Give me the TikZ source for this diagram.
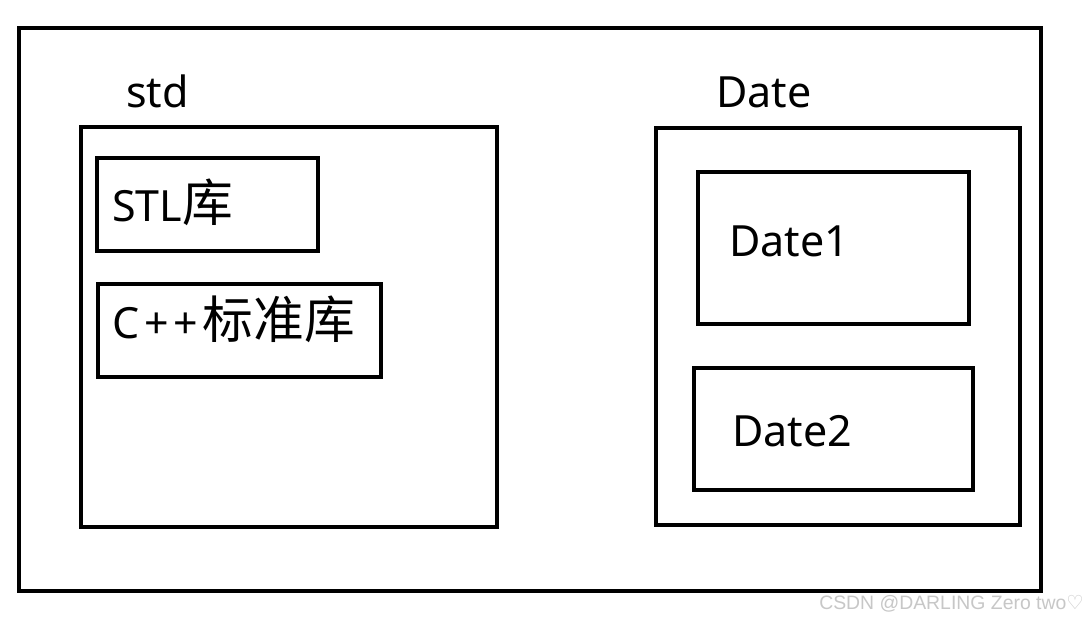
\documentclass[tikz,border=0pt]{standalone}
\usepackage{fontspec}
\setmainfont{Noto Sans}
\newfontfamily\cjkf[Scale=1.18]{Noto Sans CJK SC}
\newfontfamily\markf{Liberation Sans}
\newfontfamily\symf{DejaVu Sans}
\usepackage{tikz}
\usetikzlibrary{positioning}
\tikzset{
  frame/.style={draw=black,line width=4pt,rectangle,anchor=north west,inner sep=0pt,outer sep=0pt},
  lbl/.style={anchor=base west,inner sep=0pt,font=\fontsize{43}{50}\selectfont}
}
\begin{document}
\begin{tikzpicture}[x=1pt,y=-1pt]
\useasboundingbox[fill=white] (0,0) rectangle (1087,619);
% outer frame
\node[frame,minimum width=1022pt,minimum height=563pt] (outer) at (19,27.5) {};
% std namespace
\node[frame,minimum width=416pt,minimum height=400pt] (std) at (81,126.5) {};
\node[frame,minimum width=221pt,minimum height=93pt] (stl) at (97,158) {};
\node[frame,minimum width=283pt,minimum height=93pt] (cpp) at (98,284) {};
\node[lbl] (stdname) at (126,107) {std};
\node[lbl] (stltext) at (112,221) {STL{\cjkf 库}};
\node[lbl] (cpptext) at (112,338) {C\kern5pt+\kern5pt+\kern4pt{\cjkf 标准库}};
% Date namespace
\node[frame,minimum width=364pt,minimum height=397pt] (date) at (656,128) {};
\node[frame,minimum width=271pt,minimum height=152pt] (date1) at (698,172) {};
\node[frame,minimum width=279pt,minimum height=122pt] (date2) at (694,368) {};
\node[lbl] (datename) at (716,107) {Date};
\node[lbl] (date1text) at (729,256) {Date1};
\node[lbl] (date2text) at (732,446) {Date2};
% watermark
\node[anchor=base east,inner sep=0pt,text=black!22,font=\markf\fontsize{19.4}{22}\selectfont] (mark) at (1084,609) {CSDN @DARLING Zero two{\symf ♡}};
\end{tikzpicture}
\end{document}
